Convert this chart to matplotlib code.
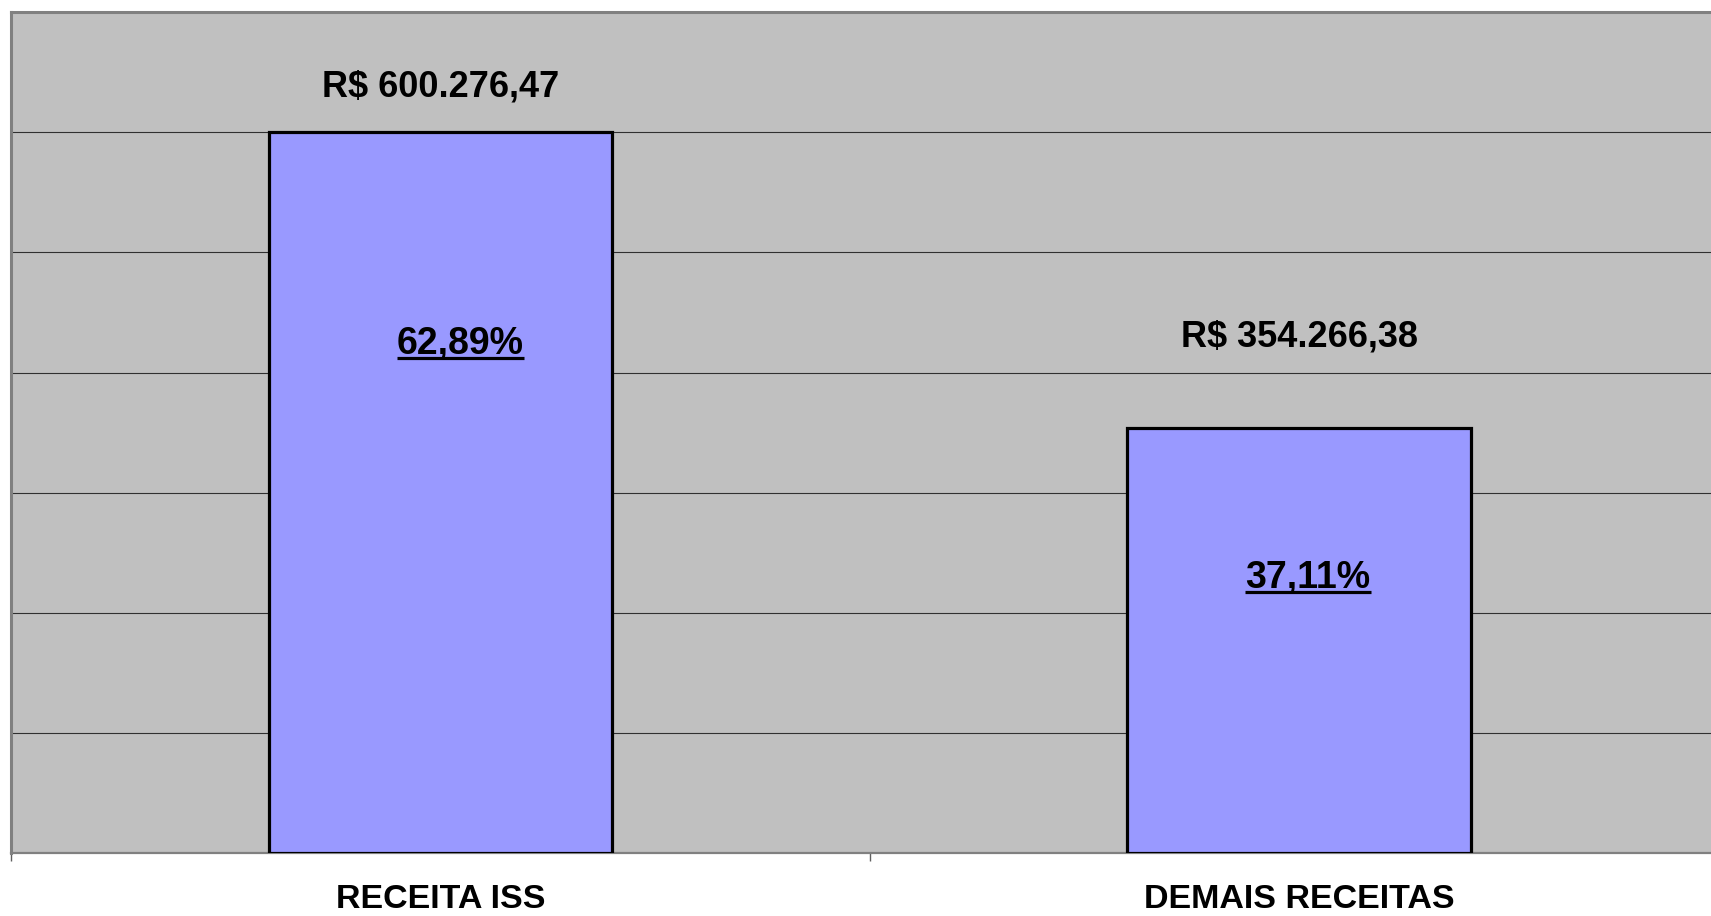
"""
Receita ISS x demais receitas - gráfico de barras
"""
import matplotlib
matplotlib.use("Agg")
import matplotlib.pyplot as plt
from matplotlib.lines import Line2D
from matplotlib.transforms import IdentityTransform

# ── dados ───────────────────────────────────────────────────────────────────
categories = ["RECEITA ISS", "DEMAIS RECEITAS"]
values = [600276.47, 354266.38]
y_max = 700000
y_step = 100000

# ── layout (pixels, a 100 dpi) ──────────────────────────────────────────────
value_label_gap = [35, 81]            # acima do topo da barra
pct_label_offset = [(20, -222), (9, -160)]

BAR_COLOR = "#9999FF"
BG_COLOR = "#C0C0C0"
FONT = ["Liberation Sans", "DejaVu Sans"]


def brl(v):
    s = f"{v:,.2f}"
    return "R$ " + s.replace(",", "X").replace(".", ",").replace("X", ".")


total = sum(values)
percents = [v / total * 100 for v in values]

fig = plt.figure(figsize=(17.11, 9.16), dpi=100)
fig.patch.set_facecolor("white")
ax = fig.add_axes([10.9 / 1711, 62.7 / 916, 1717.5 / 1711, 841.3 / 916])
ax.set_facecolor(BG_COLOR)

x = list(range(len(categories)))
ax.bar(x, values, width=0.4, color=BAR_COLOR, edgecolor="black",
       linewidth=2.3, zorder=3)

ax.set_xlim(-0.5, len(categories) - 0.5)
ax.set_ylim(0, y_max)

# grade horizontal
ax.set_yticks(list(range(y_step, y_max, y_step)))
ax.set_yticklabels([])
ax.tick_params(axis="y", length=0)
ax.grid(axis="y", color="#303030", linewidth=0.8, zorder=1)
ax.set_axisbelow(True)

# eixo x: rótulos nas categorias, marcas entre categorias
ax.set_xticks(x)
ax.set_xticklabels(categories, fontsize=24.5, fontweight="bold", family=FONT)
ax.tick_params(axis="x", which="major", length=0, pad=22)
ax.set_xticks([i - 0.5 for i in range(len(categories) + 1)], minor=True)
ax.tick_params(axis="x", which="minor", length=5.5, width=1.0,
               color="#606060", direction="out")

for side in ["left", "top", "bottom", "right"]:
    ax.spines[side].set_color("#808080")
    ax.spines[side].set_linewidth(2.2)
ax.spines["bottom"].set_linewidth(1.6)

px = 72 / fig.dpi

# rótulos de valor
for i, v in enumerate(values):
    ax.annotate(brl(v), xy=(i, v), xytext=(0, value_label_gap[i] * px),
                textcoords="offset points", ha="center", va="baseline",
                fontsize=26, fontweight="bold", family=FONT, zorder=5)

# rótulos de percentual (sublinhados)
pct_texts = []
for i, (v, p) in enumerate(zip(values, percents)):
    dx, dy = pct_label_offset[i]
    t = ax.annotate(f"{p:.2f}%".replace(".", ","), xy=(i, v),
                    xytext=(dx * px, dy * px), textcoords="offset points",
                    ha="center", va="baseline", fontsize=27,
                    fontweight="bold", family=FONT, zorder=5)
    pct_texts.append((t, i, v, dy))

fig.canvas.draw()
renderer = fig.canvas.get_renderer()
for t, i, v, dy in pct_texts:
    bb = t.get_window_extent(renderer)
    y_base = ax.transData.transform((i, v))[1] + dy
    line = Line2D([bb.x0, bb.x1], [y_base - 4.5, y_base - 4.5],
                  transform=IdentityTransform(), color="black",
                  linewidth=2.3, solid_capstyle="butt", zorder=6)
    fig.add_artist(line)

fig.savefig("out.png", dpi=100, facecolor="white")
plt.close()
print("[ok] out.png saved")
